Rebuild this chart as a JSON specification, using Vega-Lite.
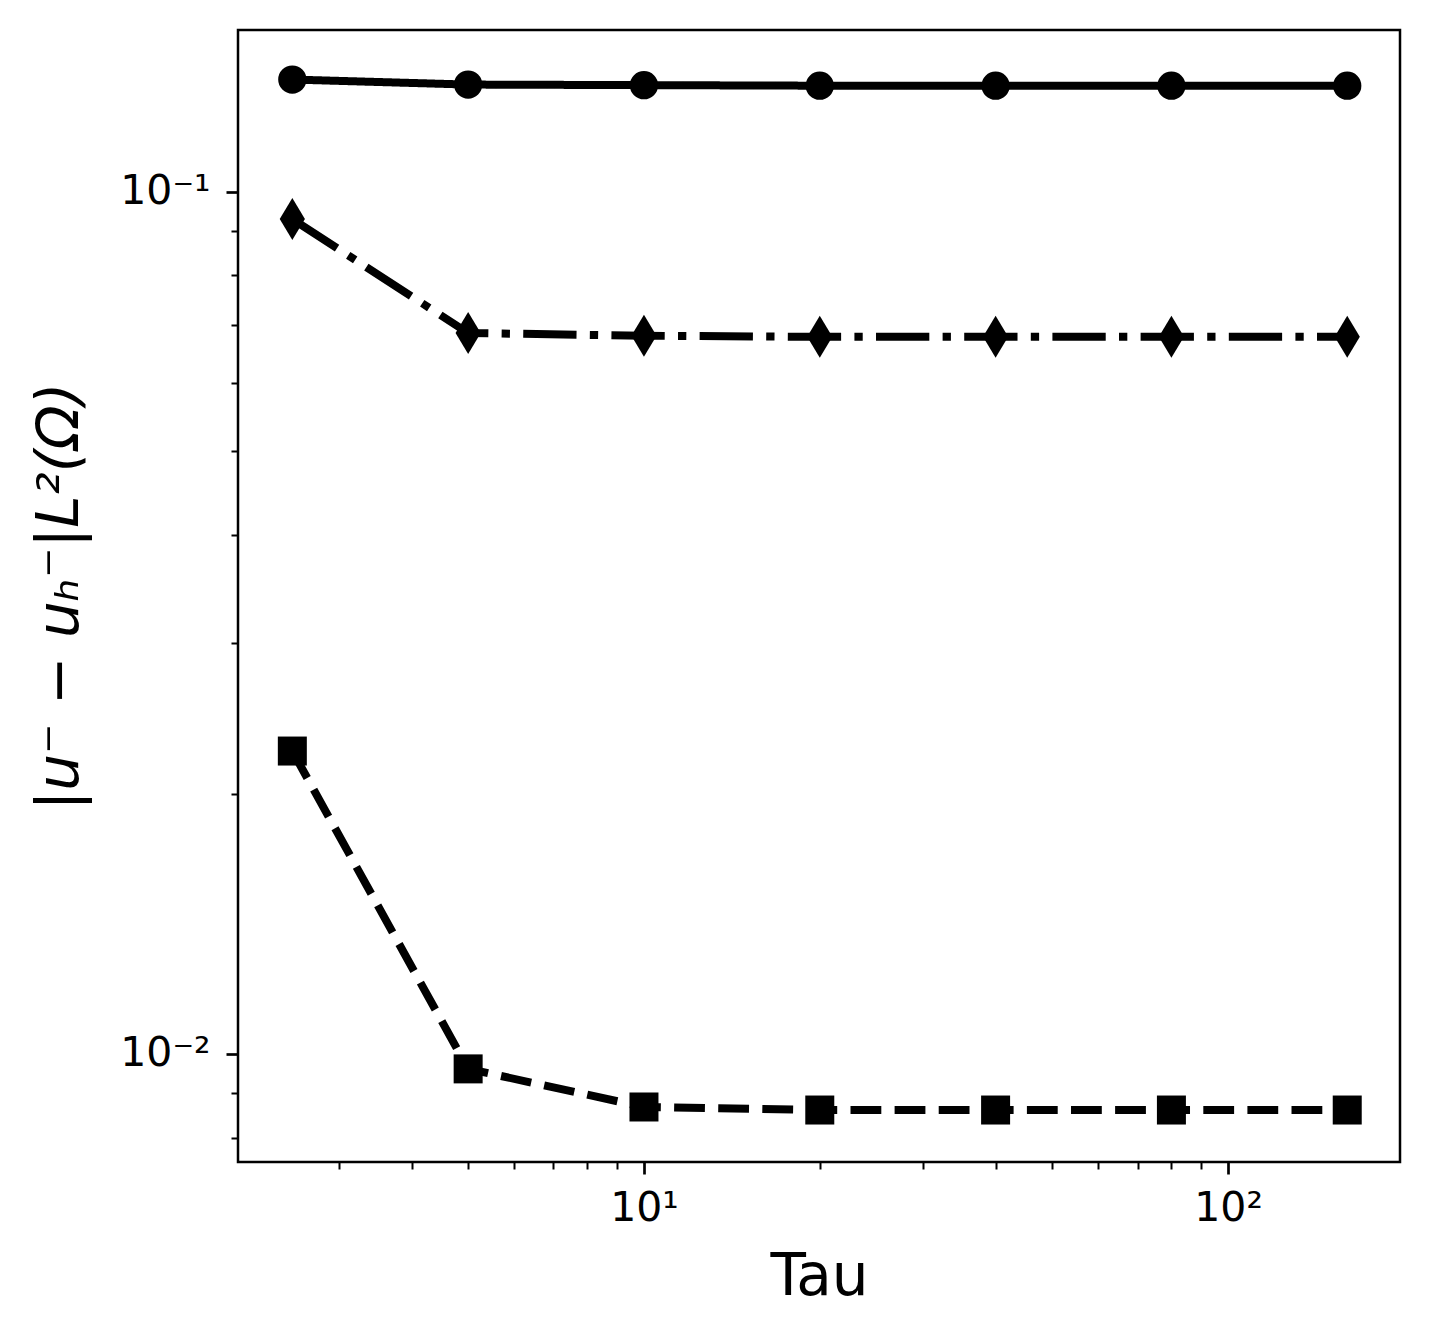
{
  "$schema": "https://vega.github.io/schema/vega-lite/v6.json",
  "autosize": {"type": "none"},
  "padding": {"left": 238, "top": 30, "right": 30, "bottom": 176},
  "width": 1162,
  "height": 1132,
  "background": "white",
  "config": {
    "view": {"stroke": "black", "strokeWidth": 2.5},
    "axis": {
      "grid": false,
      "domain": false,
      "tickColor": "black",
      "labelColor": "black",
      "labelFont": "DejaVu Sans",
      "labelFontSize": 41,
      "titleFont": "DejaVu Sans",
      "titleFontWeight": "normal",
      "titleColor": "black",
      "labelOverlap": false,
      "labelFlush": false
    }
  },
  "data": {
    "values": [
      {"tau": 2.5, "err": 0.135, "series": "A"},
      {"tau": 5, "err": 0.1332, "series": "A"},
      {"tau": 10, "err": 0.1330, "series": "A"},
      {"tau": 20, "err": 0.1328, "series": "A"},
      {"tau": 40, "err": 0.1328, "series": "A"},
      {"tau": 80, "err": 0.1328, "series": "A"},
      {"tau": 160, "err": 0.1328, "series": "A"},
      {"tau": 2.5, "err": 0.0930, "series": "B"},
      {"tau": 5, "err": 0.0686, "series": "B"},
      {"tau": 10, "err": 0.0681, "series": "B"},
      {"tau": 20, "err": 0.0679, "series": "B"},
      {"tau": 40, "err": 0.0679, "series": "B"},
      {"tau": 80, "err": 0.0679, "series": "B"},
      {"tau": 160, "err": 0.0679, "series": "B"},
      {"tau": 2.5, "err": 0.02246, "series": "C"},
      {"tau": 5, "err": 0.00961, "series": "C"},
      {"tau": 10, "err": 0.00868, "series": "C"},
      {"tau": 20, "err": 0.00861, "series": "C"},
      {"tau": 40, "err": 0.00861, "series": "C"},
      {"tau": 80, "err": 0.00861, "series": "C"},
      {"tau": 160, "err": 0.00861, "series": "C"}
    ]
  },
  "encoding": {
    "x": {
      "field": "tau",
      "type": "quantitative",
      "scale": {"type": "log", "domain": [2.018, 197], "nice": false},
      "axis": {
        "title": "Tau",
        "titleFontSize": 58,
        "titlePadding": 20,
        "values": [3, 4, 5, 6, 7, 8, 9, 10, 20, 30, 40, 50, 60, 70, 80, 90, 100],
        "labelExpr": "datum.value == 10 ? '10¹' : (datum.value == 100 ? '10²' : '')",
        "labelPadding": 14,
        "tickSize": {"condition": {"test": "datum.value == 10 || datum.value == 100", "value": 12}, "value": 7},
        "tickWidth": {"condition": {"test": "datum.value == 10 || datum.value == 100", "value": 2.7}, "value": 2}
      }
    },
    "y": {
      "field": "err",
      "type": "quantitative",
      "scale": {"type": "log", "domain": [0.007494, 0.1541], "nice": false},
      "axis": {
        "title": "|u⁻ − uₕ⁻|L²(Ω)",
        "titleFontSize": 58,
        "titleFontStyle": "italic",
        "titlePadding": 30,
        "values": [0.008, 0.009, 0.01, 0.02, 0.03, 0.04, 0.05, 0.06, 0.07, 0.08, 0.09, 0.1],
        "labelExpr": "abs(datum.value - 0.1) < 1e-9 ? '10⁻¹' : (abs(datum.value - 0.01) < 1e-9 ? '10⁻²' : '')",
        "labelPadding": 16,
        "labelBaseline": "middle",
        "tickSize": {"condition": {"test": "abs(datum.value - 0.1) < 1e-9 || abs(datum.value - 0.01) < 1e-9", "value": 12}, "value": 7},
        "tickWidth": {"condition": {"test": "abs(datum.value - 0.1) < 1e-9 || abs(datum.value - 0.01) < 1e-9", "value": 2.7}, "value": 2}
      }
    }
  },
  "layer": [
    {
      "mark": {"type": "line", "color": "black", "strokeWidth": 8, "strokeCap": "butt"},
      "encoding": {
        "detail": {"field": "series", "type": "nominal"},
        "strokeDash": {
          "field": "series",
          "type": "nominal",
          "scale": {"domain": ["A", "B", "C"], "range": [[1, 0], [53.3, 13.3, 8.3, 13.3], [30.8, 13.3]]},
          "legend": null
        }
      }
    },
    {
      "transform": [{"filter": "datum.series == 'A'"}],
      "mark": {"type": "point", "shape": "circle", "size": 800, "filled": true, "color": "black", "opacity": 1, "strokeWidth": 0}
    },
    {
      "transform": [{"filter": "datum.series == 'B'"}],
      "mark": {"type": "point", "shape": "M0,-1L0.6,0L0,1L-0.6,0Z", "size": 1764, "filled": true, "color": "black", "opacity": 1, "strokeWidth": 0}
    },
    {
      "transform": [{"filter": "datum.series == 'C'"}],
      "mark": {"type": "point", "shape": "square", "size": 841, "filled": true, "color": "black", "opacity": 1, "strokeWidth": 0}
    }
  ]
}
